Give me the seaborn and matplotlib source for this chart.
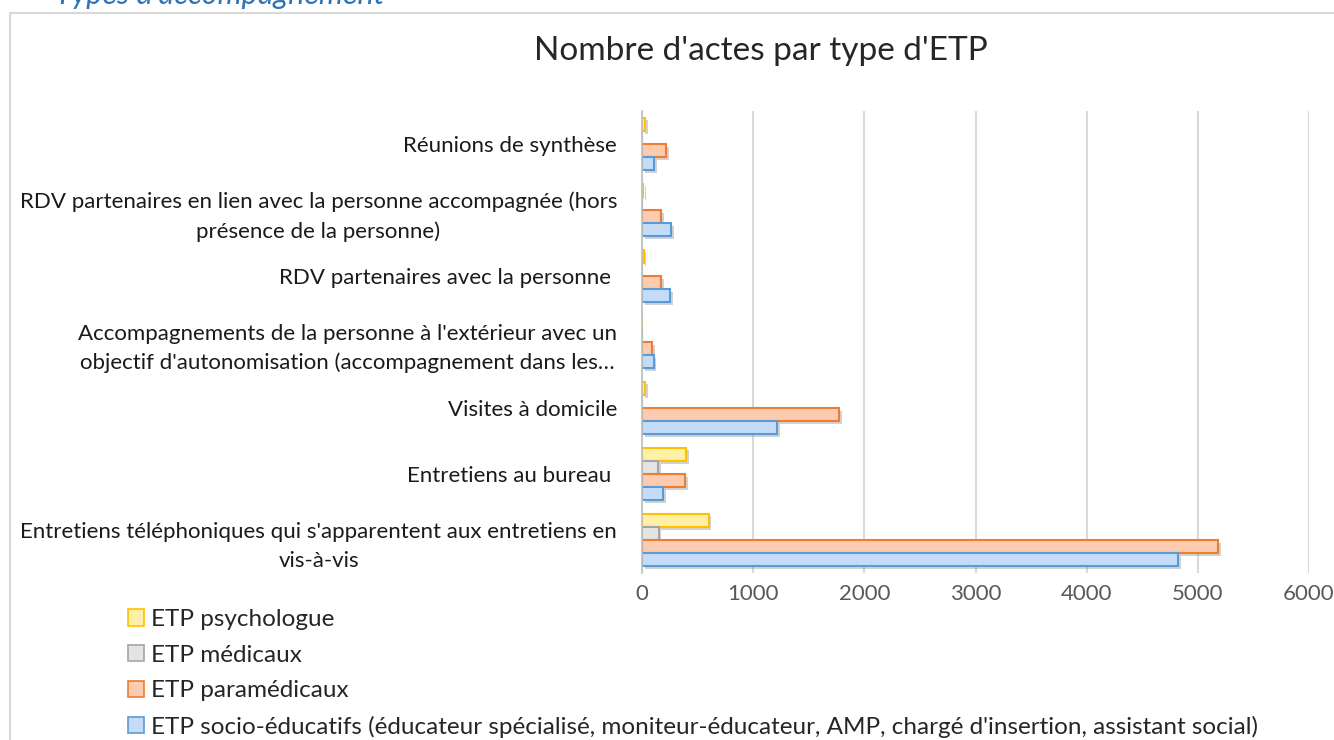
import numpy as np
import pandas as pd
import matplotlib
matplotlib.use('Agg')
import matplotlib.pyplot as plt
import seaborn as sns
from matplotlib.patches import Patch, Rectangle
from matplotlib import patheffects as pe

# categories listed top to bottom as they appear
categories = [
    "Réunions de synthèse",
    "RDV partenaires en lien avec la personne accompagnée (hors\nprésence de la personne)",
    "RDV partenaires avec la personne ",
    "Accompagnements de la personne à l'extérieur avec un\nobjectif d'autonomisation (accompagnement dans les…",
    "Visites à domicile",
    "Entretiens au bureau ",
    "Entretiens téléphoniques qui s'apparentent aux entretiens en\nvis-à-vis",
]
series = [
    "ETP psychologue",
    "ETP médicaux",
    "ETP paramédicaux",
    "ETP socio-éducatifs (éducateur spécialisé, moniteur-éducateur, AMP, chargé d'insertion, assistant social)",
]
psychologue = [30, 10, 15, 0, 30, 400, 600]
medicaux = [0, 0, 0, 0, 0, 145, 150]
paramedicaux = [220, 175, 175, 90, 1770, 385, 5180]
socio_educatifs = [110, 260, 250, 105, 1215, 190, 4820]
xticks = [0, 1000, 2000, 3000, 4000, 5000, 6000]

fills = ['#FFF0A8', '#E4E4E4', '#FCCBB0', '#C4DCF8']
edges = ['#FFC000', '#A5A5A5', '#ED7D31', '#5B9BD5']

rows = []
for s, vals in zip(series, [psychologue, medicaux, paramedicaux, socio_educatifs]):
    for c, v in zip(categories, vals):
        rows.append({'categorie': c, 'serie': s, 'valeur': v})
df = pd.DataFrame(rows)

sns.set_style('white')
plt.rcParams['font.family'] = ['Lato', 'DejaVu Sans']

fig = plt.figure(figsize=(13.34, 7.40), dpi=100)
ax = fig.add_axes([642 / 1334, 1 - 573 / 740, (1309 - 642) / 1334, (573 - 111) / 740])

sns.barplot(data=df, x='valeur', y='categorie', hue='serie', orient='h',
            order=categories, hue_order=series, palette=fills, saturation=1,
            width=0.8, errorbar=None, legend=False, ax=ax)

shadow = [pe.SimplePatchShadow(offset=(2, -2), shadow_rgbFace='#808080', alpha=0.35), pe.Normal()]
for cont, ec in zip(ax.containers, edges):
    for bar in cont:
        bar.set_edgecolor(ec)
        bar.set_linewidth(1.5)
        if bar.get_width() > 0:
            bar.set_path_effects(shadow)

ax.set_xlim(0, 6000)
ax.set_xticks(xticks)
ax.set_xticklabels([str(t) for t in xticks], color='#595959', fontsize=16)
ax.set_yticks(range(len(categories)))
ax.set_yticklabels(categories, fontsize=16, color='#1a1a1a',
                   multialignment='center', linespacing=1.55)
ax.tick_params(axis='x', length=0, pad=8)
ax.tick_params(axis='y', length=0, pad=18)
ax.set_xlabel('')
ax.set_ylabel('')
ax.grid(axis='x', color='#D9D9D9', linewidth=1.5)
ax.set_axisbelow(True)
for side in ['top', 'right', 'bottom']:
    ax.spines[side].set_visible(False)
ax.spines['left'].set_color('#BFBFBF')
ax.spines['left'].set_linewidth(1.2)

# chart frame and titles
fig.patches.append(Rectangle((10 / 1334, -0.05), 1.2, 1 - 13 / 740 + 0.05,
                             transform=fig.transFigure, fill=False,
                             edgecolor='#D9D9D9', linewidth=1.5))
fig.text(55 / 1334, 1 - 4 / 740, "Types d'accompagnement", color='#2E74B5',
         style='italic', fontsize=22, va='baseline', ha='left')
fig.text(761 / 1334, 1 - 51 / 740, "Nombre d'actes par type d'ETP",
         fontsize=24, color='#262626', ha='center', va='center')

handles = [Patch(facecolor=f, edgecolor=e, linewidth=1.2) for f, e in zip(fills, edges)]
fig.legend(handles, series, loc='upper left', bbox_to_anchor=(128 / 1334, 1 - 609 / 740),
           frameon=False, fontsize=17.5, handlelength=0.65, handleheight=0.65,
           handletextpad=0.3, labelspacing=0.6, borderpad=0, borderaxespad=0)

fig.savefig('out.png', dpi=100)
